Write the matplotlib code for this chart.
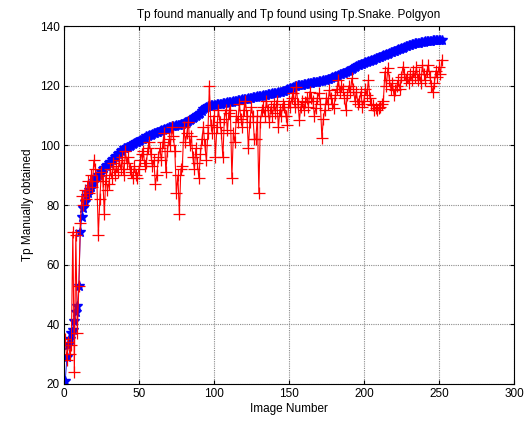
import numpy as np
import matplotlib
matplotlib.use("Agg")
import matplotlib.pyplot as plt

# manual Tp (sorted) and Tp from the snake polygon, per image
tp_manual = [
    21, 29, 33, 35, 37, 38, 41, 44, 46, 53,
    71, 76, 79, 81, 83, 84, 85, 86, 87, 88,
    89, 89.5, 90, 90.5, 91, 92, 92.5, 93, 93.5, 94,
    94.5, 95, 95.5, 96, 96.5, 97, 97.5, 98, 98.5, 99,
    99, 99.3, 99.6, 99.9, 100.2, 100.5, 100.8, 101, 101.2, 101.5,
    101.8, 102, 102.3, 102.6, 103, 103.2, 103.4, 103.6, 103.8, 104,
    104.2, 104.4, 104.6, 104.8, 105, 105.2, 105.4, 105.6, 105.8, 106,
    106.2, 106.4, 106.5, 106.6, 106.7, 106.8, 107, 107.1, 107.3, 107.5,
    107.7, 108, 108.3, 108.6, 108.9, 109.2, 109.5, 109.8, 110.1, 110.4,
    111, 111.6, 112.2, 112.7, 113, 113.2, 113.3, 113.4, 113.5, 113.6,
    113.7, 113.8, 113.9, 114, 114, 114.1, 114.2, 114.3, 114.4, 114.5,
    114.6, 114.7, 114.8, 114.9, 115, 115.1, 115.2, 115.3, 115.4, 115.5,
    115.6, 115.7, 115.8, 115.9, 116, 116.1, 116.2, 116.3, 116.4, 116.5,
    116.6, 116.7, 116.8, 116.9, 117, 117.1, 117.2, 117.3, 117.4, 117.5,
    117.6, 117.7, 117.8, 117.9, 118, 118.2, 118.4, 118.6, 118.8, 119,
    119.2, 119.4, 119.6, 119.8, 120, 120.1, 120.2, 120.3, 120.4, 120.5,
    120.6, 120.7, 120.8, 120.9, 121, 121.1, 121.2, 121.3, 121.4, 121.5,
    121.6, 121.7, 121.8, 121.9, 122, 122.2, 122.4, 122.6, 122.8, 123,
    123.2, 123.4, 123.6, 123.8, 124, 124.2, 124.4, 124.6, 124.8, 125,
    125.3, 125.6, 125.9, 126.2, 126.5, 126.8, 127, 127.2, 127.4, 127.6,
    127.8, 128, 128.2, 128.4, 128.6, 128.8, 129, 129.2, 129.4, 129.6,
    129.8, 130, 130.2, 130.4, 130.6, 130.8, 131, 131.2, 131.4, 131.6,
    131.8, 132, 132.2, 132.4, 132.6, 132.8, 133, 133.2, 133.4, 133.6,
    133.8, 134, 134.1, 134.2, 134.3, 134.4, 134.5, 134.6, 134.7, 134.8,
    134.9, 135, 135, 135.1, 135.1, 135.2, 135.2, 135.3, 135.3, 135.4,
    135.4, 135.5,
]

tp_snake = [
    35, 28, 34, 30, 33, 71, 24, 70, 37, 53,
    74, 83, 80, 85, 82, 88, 84, 90, 86, 95,
    92, 88, 70, 82, 91, 88, 77, 90, 85, 87,
    92, 89, 94, 90, 93, 91, 95, 92, 96, 90,
    98, 94, 96, 92, 91, 89, 93, 90, 89, 92,
    95, 97, 98, 93, 94, 99, 101, 97, 93, 95,
    87, 90, 96, 99, 95, 101, 104, 91, 98, 102,
    100, 106, 103, 98, 84, 90, 77, 92, 93, 106,
    101, 104, 108, 100, 103, 96, 92, 99, 94, 89,
    97, 102, 106, 100, 95, 104, 120, 107, 104, 110,
    96, 106, 112, 108, 104, 96, 109, 112, 105, 111,
    112, 89, 104, 101, 110, 108, 114, 109, 106, 112,
    115, 110, 99, 108, 113, 110, 102, 102, 110, 84,
    108, 112, 113, 110, 115, 112, 108, 113, 110, 114,
    111, 115, 106, 112, 110, 114, 113, 110, 107, 115,
    113, 116, 117.6, 113, 119.5, 114, 108.6, 113, 115, 112,
    114.6, 116, 113, 118, 116, 115, 110, 112.5, 116, 117.5,
    114, 102.5, 109, 112, 116, 114, 118.7, 116, 114, 112.5,
    117, 119, 122, 118, 120, 119, 116, 112, 117, 120,
    118, 122.5, 119, 115, 118, 114, 115, 118, 113, 115,
    119, 117, 121.8, 116, 114, 113.5, 112, 112.5, 111.7, 112.5,
    113, 114, 115, 124.7, 120, 126, 122, 119, 121, 117,
    118.5, 120, 121.8, 119, 123, 126.3, 124, 121.8, 123, 121,
    124, 122, 125, 123, 126.3, 122, 124, 121, 126.8, 124,
    122, 125, 127, 123, 120, 118, 121, 125, 123, 126.3,
    124, 128.7,
]

image_no = np.arange(1, len(tp_manual) + 1)

plt.rcParams['font.family'] = ['Liberation Sans', 'DejaVu Sans']
plt.rcParams['font.size'] = 8.5

fig = plt.figure(figsize=(5.32, 4.21), dpi=100)
ax = fig.add_axes([0.120, 0.088, 0.846, 0.850])

ax.plot(image_no, tp_manual, 'b*-', ms=7.5, lw=0.6, mew=1.0)
ax.plot(image_no, tp_snake, 'r+-', ms=9, lw=0.8, mew=0.9)

ax.set_xlim(0, 300)
ax.set_ylim(20, 140)
ax.set_xticks(np.arange(0, 301, 50))
ax.set_yticks(np.arange(20, 141, 20))
ax.grid(True, ls=(0, (1, 1)), color='#8c8c8c', lw=0.8)
ax.tick_params(direction='in', top=True, right=True, length=3, width=0.8, pad=3)
for s in ax.spines.values():
    s.set_linewidth(0.8)

ax.set_title('Tp found manually and Tp found using Tp.Snake. Polgyon', fontsize=8.5)
ax.set_xlabel('Image Number', labelpad=2)
ax.set_ylabel('Tp Manually obtained')

fig.savefig('out.png', dpi=100)
